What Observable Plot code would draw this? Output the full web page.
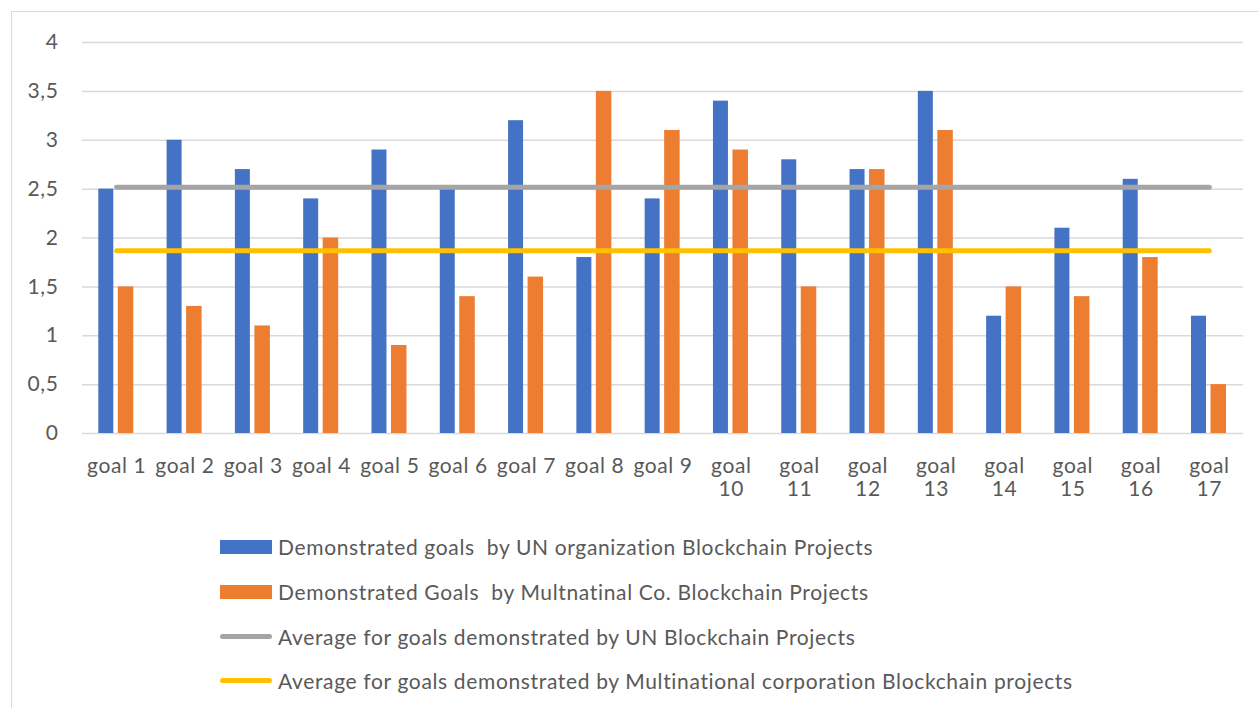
<!DOCTYPE html>
<html>
<head>
<meta charset="utf-8">
<script src="https://cdn.jsdelivr.net/npm/d3@7"></script>
<script src="https://cdn.jsdelivr.net/npm/@observablehq/plot@0.6"></script>
<style>
  html, body { margin: 0; padding: 0; background: #fff; }
  body { width: 1258px; height: 708px; position: relative; overflow: hidden; font-family: Lato, "Open Sans", sans-serif; }
  #frame { position: absolute; left: 11px; top: 11px; width: 1260px; height: 720px; border: 1px solid #d9d9d9; box-sizing: border-box; }
  #chart { position: absolute; left: 0; top: 0; }
  #legend { position: absolute; left: 220px; top: 524.5px; color: #595959; font-size: 21px; letter-spacing: 0.65px; }
  .item { display: flex; align-items: center; height: 44.7px; }
  .sw { width: 52px; margin-right: 6px; }
  .bar { height: 14px; }
  .ln { height: 5px; border-radius: 3px; }
  #chart svg text { letter-spacing: 0.6px; }
</style>
</head>
<body>
<div id="frame"></div>
<div id="chart"></div>
<div id="legend"></div>
<script>
const goals = ["goal 1","goal 2","goal 3","goal 4","goal 5","goal 6","goal 7","goal 8","goal 9","goal 10","goal 11","goal 12","goal 13","goal 14","goal 15","goal 16","goal 17"];
const unValues  = [2.5, 3.0, 2.7, 2.4, 2.9, 2.5, 3.2, 1.8, 2.4, 3.4, 2.8, 2.7, 3.5, 1.2, 2.1, 2.6, 1.2];
const mncValues = [1.5, 1.3, 1.1, 2.0, 0.9, 1.4, 1.6, 3.5, 3.1, 2.9, 1.5, 2.7, 3.1, 1.5, 1.4, 1.8, 0.5];
const unAverage = 2.52;
const mncAverage = 1.87;
const yTicks = [0, 0.5, 1, 1.5, 2, 2.5, 3, 3.5, 4];
const seriesNames = [
  "Demonstrated goals  by UN organization Blockchain Projects",
  "Demonstrated Goals  by Multnatinal Co. Blockchain Projects",
  "Average for goals demonstrated by UN Blockchain Projects",
  "Average for goals demonstrated by Multinational corporation Blockchain projects"
];
const colors = ["#4472C4", "#ED7D31", "#A5A5A5", "#FFC000"];

const unRows = goals.map((g, i) => ({goal: g, value: unValues[i]}));
const mncRows = goals.map((g, i) => ({goal: g, value: mncValues[i]}));
const unAvgRows = goals.map(g => ({goal: g, value: unAverage}));
const mncAvgRows = goals.map(g => ({goal: g, value: mncAverage}));

const W = 1258, ML = 82, MR = 15;
const band = (W - ML - MR) / goals.length;

const chart = Plot.plot({
  width: W,
  height: 515,
  marginLeft: ML,
  marginRight: MR,
  marginTop: 42,
  marginBottom: 82,
  style: { fontFamily: "Lato, 'Open Sans', sans-serif", fontSize: "21px", color: "#595959", background: "transparent", overflow: "visible" },
  x: { domain: goals, padding: 0, round: false, label: null },
  y: { domain: [0, 4], label: null },
  marks: [
    Plot.gridY(yTicks, { stroke: "#d9d9d9", strokeOpacity: 1, strokeWidth: 1.5 }),
    Plot.barY(unRows, { x: "goal", y: "value", fill: colors[0], insetLeft: 16.3, insetRight: band - 31.3 }),
    Plot.barY(mncRows, { x: "goal", y: "value", fill: colors[1], insetLeft: 35.8, insetRight: band - 51.3 }),
    Plot.lineY(unAvgRows, { x: "goal", y: "value", stroke: colors[2], strokeWidth: 5, strokeLinecap: "round" }),
    Plot.lineY(mncAvgRows, { x: "goal", y: "value", stroke: colors[3], strokeWidth: 5, strokeLinecap: "round" }),
    Plot.axisY(yTicks, { tickSize: 0, tickPadding: 24, tickFormat: d => String(d).replace(".", ","), fill: "#595959", fontSize: 21 }),
    Plot.axisX({ tickSize: 0, tickPadding: 22, lineHeight: 1.14, fill: "#595959", fontSize: 21,
      tickFormat: d => { const n = +d.split(" ")[1]; return n >= 10 ? "goal\n" + n : d; } })
  ]
});
document.getElementById("chart").appendChild(chart);

const legend = document.getElementById("legend");
seriesNames.forEach((name, i) => {
  const item = document.createElement("div");
  item.className = "item";
  const sw = document.createElement("div");
  sw.className = "sw " + (i < 2 ? "bar" : "ln");
  sw.style.background = colors[i];
  const t = document.createElement("span");
  t.textContent = name;
  t.style.whiteSpace = "pre";
  item.appendChild(sw);
  item.appendChild(t);
  legend.appendChild(item);
});
</script>
</body>
</html>
